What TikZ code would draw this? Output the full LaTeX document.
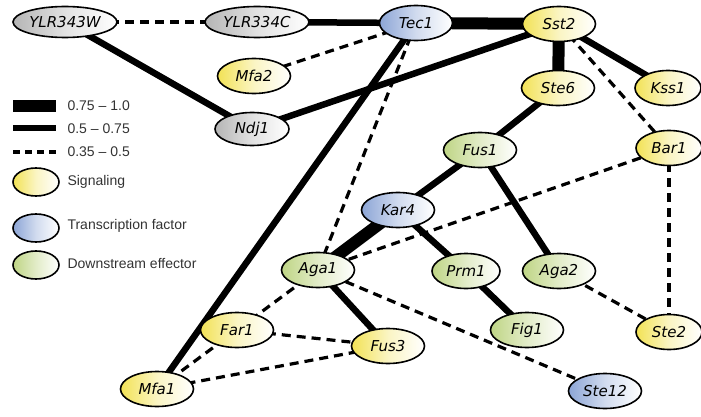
\documentclass[tikz,border=0pt]{standalone}
\usepackage{fontspec}
\setmainfont{Liberation Sans}
\newfontfamily\genefont{DejaVu Sans}
\usetikzlibrary{shapes.geometric,backgrounds}

\definecolor{sigcol}{HTML}{F2E255}
\definecolor{tfcol}{HTML}{8CA5D6}
\definecolor{effcol}{HTML}{BFD585}
\definecolor{unkcol}{HTML}{B5B5B5}

\tikzset{
  gene/.style={ellipse, draw=black, line width=1.6pt, minimum width=73pt,
    minimum height=35pt, inner sep=0pt,
    font=\genefont\itshape\fontsize{15}{15}\selectfont},
  sig/.style={gene, left color=sigcol, right color=white, middle color=sigcol!35},
  tf/.style={gene, left color=tfcol, right color=white, middle color=tfcol!40},
  eff/.style={gene, left color=effcol, right color=white, middle color=effcol!45},
  unk/.style={gene, left color=unkcol, right color=white, middle color=unkcol!40,
    minimum width=104pt, minimum height=31pt},
  strong/.style={line width=12pt},
  medium/.style={line width=6.5pt},
  weak/.style={line width=3.2pt, dash pattern=on 9pt off 6pt},
  legtext/.style={anchor=west, font=\fontsize{14}{14}\selectfont, text=black!80},
  legell/.style={minimum width=46pt, minimum height=28pt, font=\tiny},
}

\begin{document}
\begin{tikzpicture}[x=1pt,y=-1pt]
\useasboundingbox (0,0) rectangle (701,417);

% gene nodes
\node[unk] (ylr343w) at (65,22) {YLR343W};
\node[unk] (ylr334c) at (257,22) {YLR334C};
\node[tf]  (tec1) at (416,23) {Tec1};
\node[sig] (sst2) at (559,24) {Sst2};
\node[sig] (mfa2) at (254,76) {Mfa2};
\node[unk, minimum width=74pt, minimum height=33pt] (ndj1) at (252,129) {Ndj1};
\node[sig] (ste6) at (558,88) {Ste6};
\node[sig, minimum width=66pt] (kss1) at (668,88) {Kss1};
\node[eff] (fus1) at (480,150) {Fus1};
\node[sig, minimum width=66pt] (bar1) at (669,148) {Bar1};
\node[tf]  (kar4) at (398,210) {Kar4};
\node[eff] (aga1) at (318,270) {Aga1};
\node[eff, minimum width=68pt] (prm1) at (466,271) {Prm1};
\node[eff] (aga2) at (559,271) {Aga2};
\node[eff] (fig1) at (527,330) {Fig1};
\node[sig, minimum width=66pt] (ste2) at (669,332) {Ste2};
\node[sig] (fus3) at (388,346) {Fus3};
\node[tf]  (ste12) at (605,391) {Ste12};
\node[sig] (far1) at (237,330) {Far1};
\node[sig] (mfa1) at (157,389) {Mfa1};

% legend
\coordinate (la1) at (13,106); \coordinate (la2) at (56,106);
\coordinate (lb1) at (13,128); \coordinate (lb2) at (56,128);
\coordinate (lc1) at (13,152); \coordinate (lc2) at (56,152);
\draw[strong, line width=12.5pt] (la1) -- (la2);
\draw[medium] (lb1) -- (lb2);
\draw[weak, dash pattern=on 7pt off 5pt] (lc1) -- (lc2);
\node[legtext] (t1) at (64,106) {0.75 -- 1.0};
\node[legtext] (t2) at (64,129) {0.5 -- 0.75};
\node[legtext] (t3) at (64,152) {0.35 -- 0.5};
\node[sig, legell] (e1) at (36,182) {};
\node[tf, legell]  (e2) at (36,228) {};
\node[eff, legell] (e3) at (36,265) {};
\node[legtext] (t4) at (64,182) {Signaling};
\node[legtext] (t5) at (64,226) {Transcription factor};
\node[legtext] (t6) at (64,264) {Downstream effector};

% interactions
\begin{scope}[on background layer]
  \draw[strong] (tec1.center) -- (sst2.center);
  \draw[strong] (sst2.center) -- (ste6.center);
  \draw[strong] (kar4.center) -- (aga1.center);

  \draw[medium] (ylr334c.center) -- (tec1.center);
  \draw[medium] (ylr343w.center) -- (ndj1.center);
  \draw[medium] (ndj1.center) -- (sst2.center);
  \draw[medium] (tec1.center) -- (mfa1.center);
  \draw[medium] (sst2.center) -- (kss1.center);
  \draw[medium] (ste6.center) -- (fus1.center);
  \draw[medium] (fus1.center) -- (kar4.center);
  \draw[medium] (fus1.center) -- (aga2.center);
  \draw[medium] (kar4.center) -- (prm1.center);
  \draw[medium] (prm1.center) -- (fig1.center);
  \draw[medium] (aga1.center) -- (fus3.center);

  \draw[weak] (ylr343w.center) -- (ylr334c.center);
  \draw[weak] (mfa2.center) -- (tec1.center);
  \draw[weak] (tec1.center) -- (aga1.center);
  \draw[weak] (sst2.center) -- (bar1.center);
  \draw[weak] (bar1.center) -- (aga1.center);
  \draw[weak] (bar1.center) -- (ste2.center);
  \draw[weak] (aga2.center) -- (ste2.center);
  \draw[weak] (aga1.center) -- (far1.center);
  \draw[weak] (aga1.center) -- (ste12.center);
  \draw[weak] (far1.center) -- (fus3.center);
  \draw[weak] (far1.center) -- (mfa1.center);
  \draw[weak] (mfa1.center) -- (fus3.center);
\end{scope}
\end{tikzpicture}
\end{document}
